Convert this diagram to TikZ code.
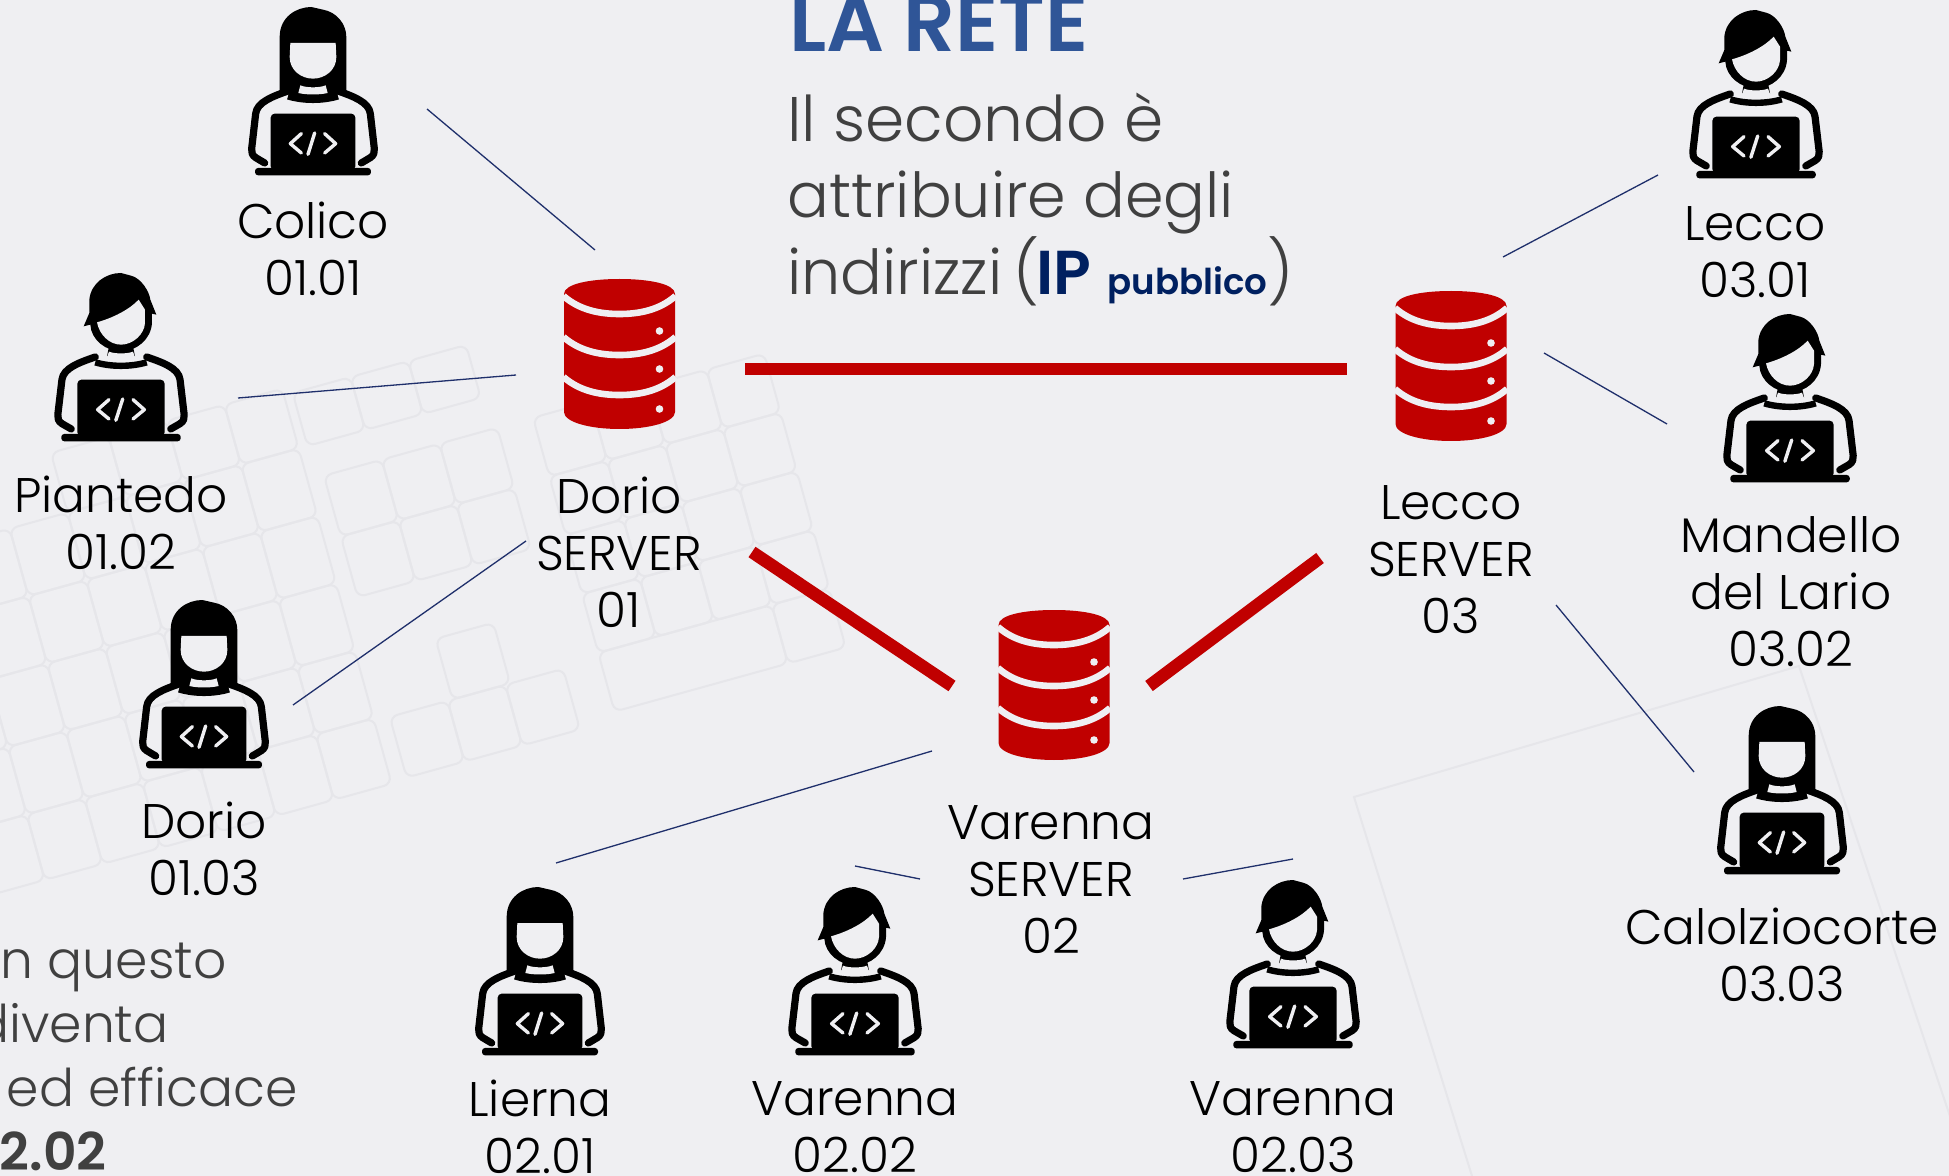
\documentclass[tikz,border=0pt]{standalone}
\usepackage{fontspec}
\setmainfont{Poppins Light}[BoldFont=Poppins SemiBold]
\definecolor{bgc}{HTML}{EFEFF2}
\definecolor{wmk}{HTML}{E6E6EA}
\definecolor{srv}{HTML}{C00000}
\definecolor{wire}{HTML}{1F2F6B}
\definecolor{ttl}{HTML}{2F5597}
\definecolor{gry}{HTML}{404040}
\definecolor{ipc}{HTML}{002060}
\newcommand{\laptopbody}{%
  \draw[black,line width=3.6pt,line cap=round,line join=round]
    (-145,468) -- (-172,452) .. controls (-183,445) and (-185,435) .. (-184,425)
    -- (-172,320) .. controls (-168,285) and (-120,268) .. (-75,252);
  \draw[black,line width=3.6pt,line cap=round,line join=round]
    (145,468) -- (172,452) .. controls (183,445) and (185,435) .. (184,425)
    -- (172,320) .. controls (168,285) and (120,268) .. (75,252);
  \draw[black,line width=3.2pt] (-75,268) .. controls (-30,282) and (30,282) .. (75,268);
  \fill[black,rounded corners=2pt] (-127,320) rectangle (127,490);
  \fill[black,rounded corners=1.5pt] (-174,483) rectangle (174,505);
  \draw[bgc,line width=1.7pt,line cap=round,line join=round]
    (-35,380) -- (-68,410) -- (-35,438) (5,378) -- (-15,442) (35,380) -- (68,410) -- (35,438);
}
\newcommand{\keyrow}[4]{% v top, height, first u, list of widths handled by foreach
  \foreach \k in {#4}{\draw[rounded corners=4pt] ({#3+\k*60},#1) rectangle ({#3+\k*60+60},{#1+#2});}}
\tikzset{
 x=0.5pt,y=-0.5pt,
 thin wire/.style={wire,line width=0.65pt},
 red link/.style={srv,line width=6.3pt},
 lbl/.style={align=center,text=black,font=\fontsize{24.3}{28.5}\selectfont,inner sep=0pt},
 txtl/.style={anchor=base west,inner sep=0pt,text=gry,font=\fontsize{31}{38}\selectfont},
 txtr/.style={anchor=base east,inner sep=0pt,text=gry,font=\fontsize{26}{32}\selectfont},
 pics/wperson/.style={code={
  \fill[black] (-100,252) -- (-100,90) .. controls (-100,30) and (-50,0) .. (-5,0)
    -- (30,8) .. controls (70,15) and (100,50) .. (100,90) -- (100,252) -- (40,275) -- (-40,275) -- cycle;
  \fill[bgc] (-68,108) -- (68,108) -- (70,150) .. controls (70,190) and (35,215) .. (0,215)
    .. controls (-35,215) and (-70,190) .. (-70,150) -- cycle;
  \fill[bgc] (-38,235) .. controls (-20,243) and (20,243) .. (38,235) -- (44,258) .. controls (20,264) and (-20,264) .. (-44,258) -- cycle;
  \laptopbody
 }},
 pics/mperson/.style={code={
  \fill[black] (-35,215) -- (-42,250) -- (42,250) -- (35,215) -- cycle;
  \fill[black] (-112,160) -- (-95,120) -- (-95,80) .. controls (-90,30) and (-45,0) .. (0,0)
    -- (30,8) .. controls (60,15) and (85,55) .. (88,80) -- (106,125) -- (93,122)
    -- (93,150) .. controls (90,200) and (45,235) .. (0,235)
    .. controls (-45,235) and (-90,200) .. (-92,155) -- cycle;
  \fill[bgc] (-72,148) .. controls (-25,135) and (25,110) .. (53,80) -- (72,110) -- (72,150)
    .. controls (70,185) and (35,215) .. (0,215) .. controls (-35,215) and (-65,185) .. (-72,148) -- cycle;
  \fill[bgc] (-36,236) .. controls (-20,243) and (20,243) .. (36,236) -- (44,258) .. controls (20,264) and (-20,264) .. (-44,258) -- cycle;
  \begin{scope}[xscale=1.03]\laptopbody\end{scope}
 }},
 pics/dbserver/.style={code={
  \fill[srv] (-55.5,15) .. controls (-55.5,5) and (-30,0) .. (0,0) .. controls (30,0) and (55.5,5) .. (55.5,15)
    -- (55.5,133) .. controls (55.5,143) and (30,150) .. (0,150) .. controls (-30,150) and (-55.5,143) .. (-55.5,133) -- cycle;
  \foreach \d in {17,58,98}{
   \draw[bgc,line width=3.3pt] (-56,\d) .. controls (-40,{\d+14}) and (-20,{\d+18}) .. (0,{\d+18})
      .. controls (20,{\d+18}) and (40,{\d+14}) .. (56,\d);
  }
  \foreach \d in {52,90,130}{\fill[bgc] (40,\d) circle[radius=3.8];}
 }},
}
\begin{document}
\begin{tikzpicture}
\useasboundingbox (0,0) rectangle (1949,1176);
\fill[bgc] (0,0) rectangle (1949,1176);
% faint watermark: key blocks in a frame turned 15.5 degrees
\begin{scope}[rotate=15.5,wmk,line width=1pt]
 % block A
 \keyrow{545}{63}{185}{0,1,2}
 \keyrow{608}{63}{185}{0,1,2}
 % block B
 \keyrow{457}{55}{177}{0,1,2}
 % block C
 \keyrow{545}{61}{402}{0,1,2,3}
 \keyrow{606}{61}{402}{0,1,2,3}
 \keyrow{667}{61}{402}{0,1,2,3}
 \keyrow{728}{61}{402}{0,1,2,3}
 \draw[rounded corners=4pt] (402,789) rectangle (582,850);
 \draw[rounded corners=4pt] (582,789) rectangle (642,850);
 % block D
 \keyrow{795}{63}{184}{0,1,2}
 \keyrow{732}{63}{249}{0}
 % block E
 \keyrow{450}{62}{-72}{0,1,2,3}
 \keyrow{512}{70}{-312}{0,1,2,3,4,5,6,7}
 \keyrow{582}{70}{-312}{0,1,2,3,4,5,6,7}
 \keyrow{652}{70}{-312}{0,1,2,3,4,5,6,7}
 \keyrow{722}{70}{-312}{0,1,2,3,4,5,6,7}
 \keyrow{792}{68}{-312}{0,1,2,3,4,5,6,7}
\end{scope}
\draw[wmk,line width=1pt] (1472,1176) -- (1354,797) -- (1799,666) -- (1970,1176);
% red links
\coordinate (ra1) at (745,369); \coordinate (ra2) at (1347,369);
\coordinate (rb1) at (752,552); \coordinate (rb2) at (952,686);
\coordinate (rc1) at (1149,686); \coordinate (rc2) at (1320,558);
\draw[red link] (ra1) -- (ra2);
\draw[red link] (rb1) -- (rb2);
\draw[red link] (rc1) -- (rc2);
% thin connectors
\coordinate (w1a) at (427,109);  \coordinate (w1b) at (595,250);
\coordinate (w2a) at (238,398);  \coordinate (w2b) at (516,375);
\coordinate (w3a) at (293,705);  \coordinate (w3b) at (526,541);
\coordinate (w4a) at (556,863);  \coordinate (w4b) at (932,751);
\coordinate (w5a) at (855,866);  \coordinate (w5b) at (920,879);
\coordinate (w6a) at (1183,879); \coordinate (w6b) at (1293,859);
\coordinate (w7a) at (1503,257); \coordinate (w7b) at (1658,175);
\coordinate (w8a) at (1544,353); \coordinate (w8b) at (1667,424);
\coordinate (w9a) at (1556,605); \coordinate (w9b) at (1694,772);
\foreach \n in {1,...,9}{\draw[thin wire] (w\n a) -- (w\n b);}
% servers
\pic at (619.5,279) {dbserver};
\pic at (1451,291) {dbserver};
\pic at (1054,610) {dbserver};
% people
\pic[scale=0.3333] at (313,7) {wperson};
\pic[scale=0.3333] at (121,273) {mperson};
\pic[scale=0.3333] at (204,600) {wperson};
\pic[scale=0.3333] at (1756,10) {mperson};
\pic[scale=0.3333] at (1790,314) {mperson};
\pic[scale=0.3333] at (1782,706) {wperson};
\pic[scale=0.3333] at (540,887) {wperson};
\pic[scale=0.3333] at (855,887) {mperson};
\pic[scale=0.3333] at (1293,880) {mperson};
% labels
\node[lbl] (l1) at (313,249) {Colico\\01.01};
\node[lbl] (l2) at (121,523) {Piantedo\\01.02};
\node[lbl] (l3) at (204,849) {Dorio\\01.03};
\node[lbl] (s1) at (619,552) {Dorio\\SERVER\\01};
\node[lbl] (s3) at (1451,560) {Lecco\\SERVER\\03};
\node[lbl] (s2) at (1051,880) {Varenna\\SERVER\\02};
\node[lbl] (l4) at (1755,252) {Lecco\\03.01};
\node[lbl] (l5) at (1791,592) {Mandello\\del Lario\\03.02};
\node[lbl] (l6) at (1782,955) {Calolziocorte\\03.03};
\node[lbl] (l7) at (540,1127) {Lierna\\02.01};
\node[lbl] (l8) at (855,1127) {Varenna\\02.02};
\node[lbl] (l9) at (1293,1127) {Varenna\\02.03};
% title and texts
\node[anchor=base west,inner sep=0pt,text=ttl,font=\fontsize{40.5}{42}\selectfont\bfseries] (title) at (789,52) {LA RETE};
\node[txtl] (t1) at (787,142) {\fontsize{31.5}{38}\selectfont Il secondo è};
\node[txtl] (t2) at (787,218) {attribuire degli};
\node[txtl] (t3) at (787,295) {indirizzi\hspace{-3pt} (\textcolor{ipc}{\bfseries\hspace{-1.5pt}IP\hspace{8pt}{\fontsize{17.8}{18}\selectfont pubblico}})};
\node[txtr] (b1) at (227,978) {in questo};
\node[txtr] (b2) at (169,1042) {diventa};
\node[txtr] (b3) at (298,1106) {ed efficace};
\node[txtr,font=\fontsize{26}{32}\selectfont\bfseries] (b4) at (107,1170) {2.02};
\end{tikzpicture}
\end{document}
